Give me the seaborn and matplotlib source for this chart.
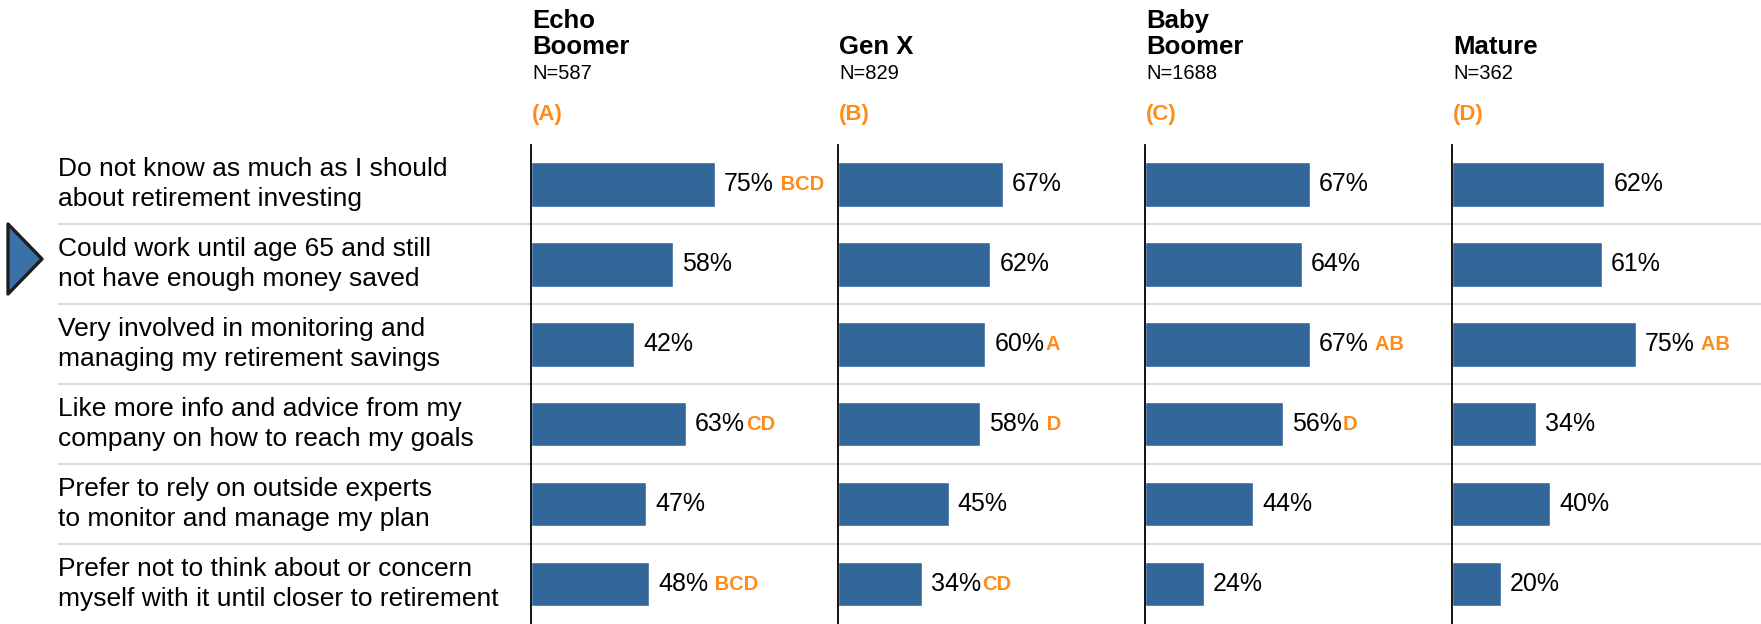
import numpy as np
import pandas as pd
import matplotlib
matplotlib.use('Agg')
import matplotlib.pyplot as plt
from matplotlib.patches import Polygon
import seaborn as sns

statements = ['Do not know as much as I should\nabout retirement investing',
              'Could work until age 65 and still\nnot have enough money saved',
              'Very involved in monitoring and\nmanaging my retirement savings',
              'Like more info and advice from my\ncompany on how to reach my goals',
              'Prefer to rely on outside experts\nto monitor and manage my plan',
              'Prefer not to think about or concern\nmyself with it until closer to retirement']

generations = ['Echo\nBoomer', 'Gen X', 'Baby\nBoomer', 'Mature']
sizes = ['N=587', 'N=829', 'N=1688', 'N=362']
codes = ['(A)', '(B)', '(C)', '(D)']

echo_boomer = [75, 58, 42, 63, 47, 48]
gen_x = [67, 62, 60, 58, 45, 34]
baby_boomer = [67, 64, 67, 56, 44, 24]
mature = [62, 61, 75, 34, 40, 20]

echo_sig = [' BCD', '', '', 'CD', '', ' BCD']
gen_x_sig = ['', '', 'A', ' D', '', 'CD']
baby_sig = ['', '', ' AB', 'D', '', '']
mature_sig = ['', '', ' AB', '', '', '']

values = [echo_boomer, gen_x, baby_boomer, mature]
letters = [echo_sig, gen_x_sig, baby_sig, mature_sig]

BLUE = '#346799'
ORANGE = '#FF8C1A'
GRID = '#DDDDDD'

W, H = 1761, 624

sns.set_theme(style='white')
plt.rcParams['font.family'] = ['Liberation Sans', 'DejaVu Sans']

fig = plt.figure(figsize=(W / 100, H / 100), dpi=100)

top_px = 145
ax_h = (H - top_px) / H
ylim = (5.5, -0.49)

# background: row labels and separators
bg = fig.add_axes([58 / W, 0, 1 - 58 / W, ax_h])
bg.set_xlim(0, 1)
bg.set_ylim(*ylim)
bg.axis('off')
for y in np.arange(0.5, len(statements) - 1, 1):
    bg.axhline(y, color=GRID, lw=1.6, zorder=0)
for i, s in enumerate(statements):
    bg.text(0, i, s, va='center', ha='left', fontsize=19, color='black', linespacing=1.32)

panel_w = 307
for k in range(4):
    left = 531 + panel_w * k
    ax = fig.add_axes([left / W, 0, panel_w / W, ax_h])
    ax.patch.set_alpha(0)
    df = pd.DataFrame({'statement': statements, 'pct': values[k]})
    sns.barplot(data=df, x='pct', y='statement', orient='h', color=BLUE,
                saturation=1, width=0.56, ax=ax)
    ax.set_xlim(0, 125)
    ax.set_ylim(*ylim)
    ax.set_xticks([])
    ax.set_yticks([])
    ax.set_xlabel('')
    ax.set_ylabel('')
    for side in ['top', 'right', 'bottom']:
        ax.spines[side].set_visible(False)
    ax.spines['left'].set_color('black')
    ax.spines['left'].set_linewidth(1.3)

    for i, v in enumerate(values[k]):
        t = ax.annotate('%d%%' % v, xy=(v, i), xytext=(6.5, 0), textcoords='offset points',
                        va='center', ha='left', fontsize=18, color='black')
        if letters[k][i]:
            ax.annotate(letters[k][i], xy=(1, 0.5), xycoords=t, xytext=(1, 0),
                        textcoords='offset points', va='center', ha='left',
                        fontsize=14.5, fontweight='bold', color=ORANGE)

    x = (left + 1) / W
    fig.text(x, 1 - 58.5 / H, generations[k], ha='left', va='bottom', fontsize=18.5,
             fontweight='bold', color='black', linespacing=1.1)
    fig.text(x, 1 - 79 / H, sizes[k], ha='left', va='baseline', fontsize=14.5, color='black')
    fig.text(x, 1 - 120 / H, codes[k], ha='left', va='baseline', fontsize=16,
             fontweight='bold', color=ORANGE)

# pointer arrow at the second row
tri = np.array([[8, 224], [8, 294], [42, 259]], dtype=float)
tri[:, 0] /= W
tri[:, 1] = 1 - tri[:, 1] / H
fig.add_artist(Polygon(tri, closed=True, facecolor='#3B70A8', edgecolor='#1E1E1E',
                       lw=2.4, joinstyle='round', transform=fig.transFigure))

fig.savefig('out.png', dpi=100)
